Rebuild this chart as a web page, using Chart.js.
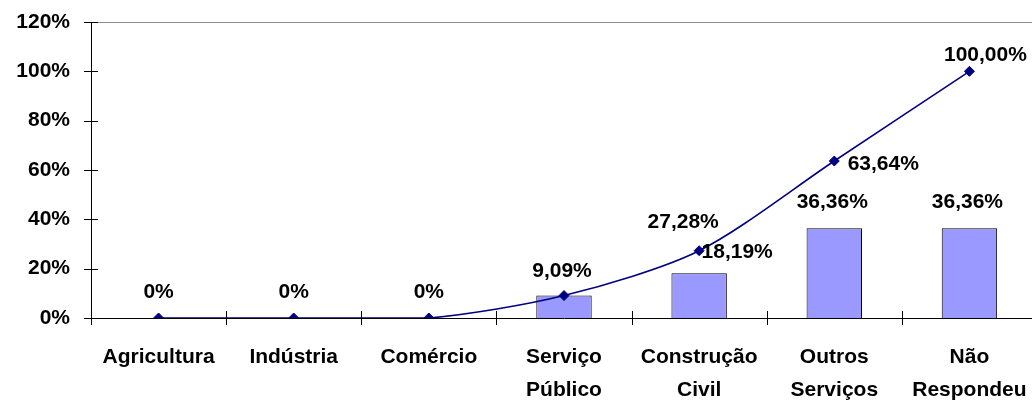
<!DOCTYPE html>
<html>
<head>
<meta charset="utf-8">
<script src="https://cdn.jsdelivr.net/npm/chart.js@4.4.0/dist/chart.umd.min.js"></script>
<style>
  html, body { margin: 0; padding: 0; background: #fff; overflow: hidden; }
  #wrap { width: 1043px; height: 401px; }
</style>
</head>
<body>
<div id="wrap"><canvas id="chart"></canvas></div>
<script>
var categories = ['Agricultura', 'Indústria', 'Comércio', ['Serviço', 'Público'], ['Construção', 'Civil'], ['Outros', 'Serviços'], ['Não', 'Respondeu']];
var percentValues = [0, 0, 0, 9.09, 18.19, 36.36, 36.36];
var cumulativeValues = [0, 0, 0, 9.09, 27.28, 63.64, 100];
var yTicks = [0, 20, 40, 60, 80, 100, 120];

// label offsets from the mark (dx, dy); null = not shown
var barLabelOffsets = [[0, -26], [0, -26], [0, -26], [-2, -24], [38, -21], [-2, -26], [-2, -26]];
var lineLabelOffsets = [null, null, null, null, [-16, -29], [49, 3], [16, -16]];

function fmt(v){
  if (v === 0) return '0%';
  return v.toFixed(2).replace('.', ',') + '%';
}

var extras = {
  id: 'extras',
  afterDraw: function(chart){
    var ctx = chart.ctx, area = chart.chartArea;
    var xs = chart.scales.x, ys = chart.scales.y;
    ctx.save();
    // top frame line
    ctx.strokeStyle = '#8c8c8c';
    ctx.lineWidth = 1;
    ctx.beginPath();
    ctx.moveTo(area.left, Math.round(area.top) + 0.5);
    ctx.lineTo(area.right, Math.round(area.top) + 0.5);
    ctx.stroke();
    // cross tick marks
    ctx.strokeStyle = '#000';
    ctx.beginPath();
    var half = (xs.getPixelForValue(1) - xs.getPixelForValue(0)) / 2;
    for (var i = 0; i <= categories.length; i++){
      var px = Math.round(xs.getPixelForValue(i) - half) + 0.5;
      ctx.moveTo(px, area.bottom - 7);
      ctx.lineTo(px, area.bottom + 7);
    }
    yTicks.forEach(function(v){
      var py = Math.round(ys.getPixelForValue(v)) + 0.5;
      ctx.moveTo(area.left - 7, py);
      ctx.lineTo(area.left + 7, py);
    });
    ctx.stroke();
    // value labels
    ctx.fillStyle = '#000';
    ctx.font = 'bold 21px "Liberation Sans", Arial, sans-serif';
    ctx.textAlign = 'center';
    ctx.textBaseline = 'middle';
    var barMeta = chart.getDatasetMeta(1);
    var lineMeta = chart.getDatasetMeta(0);
    barMeta.data.forEach(function(el, i){
      var o = barLabelOffsets[i];
      if (o) ctx.fillText(fmt(percentValues[i]), el.x + o[0], el.y + o[1]);
    });
    lineMeta.data.forEach(function(el, i){
      var o = lineLabelOffsets[i];
      if (o) ctx.fillText(fmt(cumulativeValues[i]), el.x + o[0], el.y + o[1]);
    });
    ctx.restore();
  }
};

Chart.defaults.font.family = '"Liberation Sans", Arial, sans-serif';
Chart.defaults.font.size = 21;
Chart.defaults.font.weight = 'bold';
Chart.defaults.color = '#000';

new Chart(document.getElementById('chart'), {
  type: 'bar',
  data: {
    labels: categories,
    datasets: [
      {
        type: 'line',
        label: 'acumulado',
        data: cumulativeValues,
        borderColor: '#000080',
        backgroundColor: '#000080',
        borderWidth: 1.6,
        pointStyle: 'rectRot',
        pointRadius: 5,
        pointBorderWidth: 1,
        tension: 0.28,
        fill: false,
        order: 0
      },
      {
        label: 'percentual',
        data: percentValues,
        backgroundColor: '#9999ff',
        borderColor: '#000',
        borderWidth: 1,
        categoryPercentage: 1,
        barPercentage: 0.41,
        order: 1
      }
    ]
  },
  options: {
    responsive: true,
    maintainAspectRatio: false,
    animation: false,
    layout: { padding: { top: 22, right: 0, bottom: 0, left: 0 } },
    plugins: { legend: { display: false }, tooltip: { enabled: false } },
    scales: {
      x: {
        grid: { display: false, drawTicks: false },
        border: { display: true, color: '#000', width: 1 },
        ticks: { padding: 23, maxRotation: 0, autoSkip: false, font: { size: 21, weight: 'bold', lineHeight: 1.55 } },
        afterFit: function(s){ s.height = 83; s.paddingLeft = 0; s.paddingRight = 0; }
      },
      y: {
        min: 0,
        max: 120,
        grid: { display: false, drawTicks: false },
        border: { display: true, color: '#000', width: 1 },
        ticks: { stepSize: 20, padding: 21, callback: function(v){ return v + '%'; } },
        afterFit: function(s){ s.width = 91; s.paddingTop = 0; s.paddingBottom = 0; }
      }
    }
  },
  plugins: [extras]
});
</script>
</body>
</html>
